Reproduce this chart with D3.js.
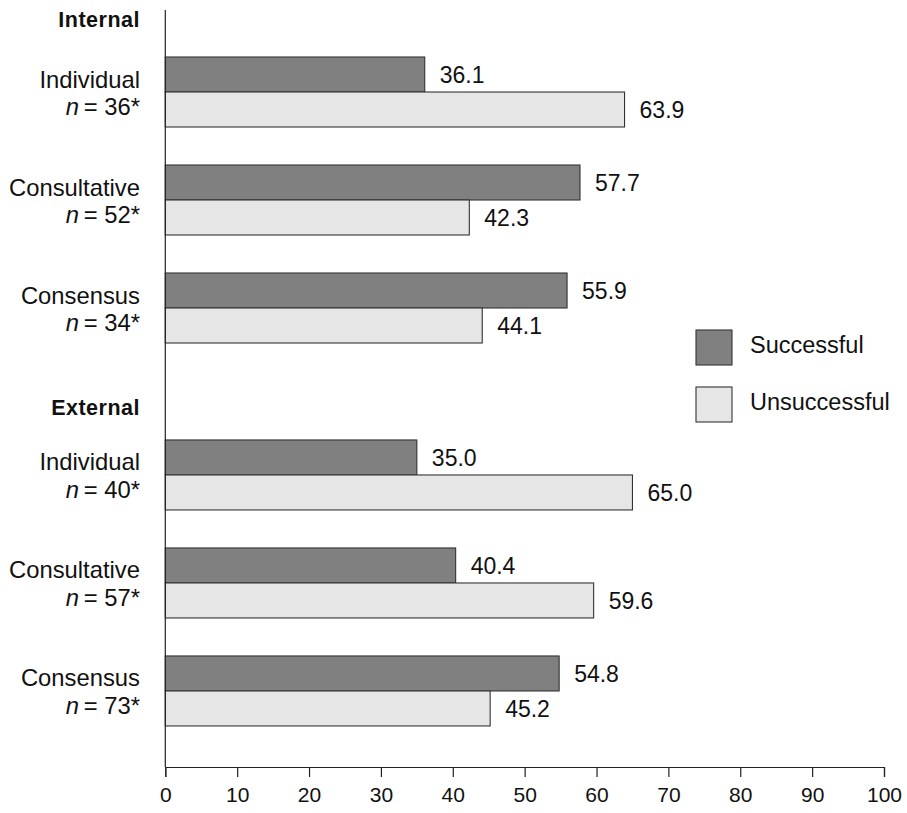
<!DOCTYPE html>
<html>
<head>
<meta charset="utf-8">
<script src="https://cdn.jsdelivr.net/npm/d3@7"></script>
<style>
  html, body { margin: 0; padding: 0; background: #fff; }
  svg { display: block; font-family: "Liberation Sans", Arial, Helvetica, sans-serif; }
</style>
</head>
<body>
<svg id="chart" width="907" height="813"></svg>
<script>
// ---- Data ----
const sections = ["Internal", "External"];
const categories = ["Individual", "Consultative", "Consensus"];
const nValues = [36, 52, 34, 40, 57, 73];
const successful = [36.1, 57.7, 55.9, 35.0, 40.4, 54.8];
const unsuccessful = [63.9, 42.3, 44.1, 65.0, 59.6, 45.2];
const seriesNames = ["Successful", "Unsuccessful"];
const xTicks = [0, 10, 20, 30, 40, 50, 60, 70, 80, 90, 100];

// ---- Layout ----
const colors = ["#808080", "#e6e6e6"];
const svg = d3.select("#chart");
const x0 = 165.3, x1 = 884;
const x = d3.scaleLinear().domain([0, 100]).range([x0, x1]);
// y: one unit per group row
const y = d3.scaleLinear().domain([0, 1]).range([92, 200]);
const sectionGap = 0.546;   // extra space before second section (in row units)
const headerOffset = [-0.60, -0.555];
const axisY = 767;
const barH = 35;

const rows = [];
sections.forEach((s, si) => {
  categories.forEach((c, ci) => {
    const idx = si * categories.length + ci;
    rows.push({
      section: s, cat: c, n: nValues[idx],
      succ: successful[idx], unsucc: unsuccessful[idx],
      pos: si * (categories.length + sectionGap) + ci
    });
  });
});

// Section headers
sections.forEach((s, si) => {
  const firstPos = si * (categories.length + sectionGap);
  svg.append("text")
    .attr("x", 140).attr("y", y(firstPos + headerOffset[si]))
    .attr("text-anchor", "end")
    .attr("font-size", 21.5).attr("font-weight", "bold")
    .attr("letter-spacing", "0.5")
    .attr("fill", "#111")
    .text(s);
});

// Bars
const g = svg.append("g");
rows.forEach(r => {
  const cy = y(r.pos);
  const vals = [r.succ, r.unsucc];
  vals.forEach((v, k) => {
    const top = k === 0 ? cy - barH : cy;
    g.append("rect")
      .attr("x", x(0)).attr("y", top)
      .attr("width", x(v) - x(0)).attr("height", barH)
      .attr("fill", colors[k]).attr("stroke", "#333").attr("stroke-width", 1.1);
    g.append("text")
      .attr("x", x(v) + 15).attr("y", top + barH / 2 + 8.5)
      .attr("font-size", 23).attr("fill", "#111")
      .text(d3.format(".1f")(v));
  });
  // Category labels
  svg.append("text")
    .attr("x", 140).attr("y", cy - 4.5)
    .attr("text-anchor", "end")
    .attr("font-size", 23.8).attr("fill", "#111")
    .text(r.cat);
  const t = svg.append("text")
    .attr("x", 140).attr("y", cy + 23)
    .attr("text-anchor", "end")
    .attr("font-size", 23.8).attr("fill", "#111");
  t.append("tspan").attr("font-style", "italic").text("n");
  t.append("tspan").text("\u2009= " + r.n + "*");
});

// Axes
const xAxis = d3.axisBottom(x).tickValues(xTicks).tickSize(10).tickPadding(6).tickFormat(d3.format("d"));
const ax = svg.append("g").attr("transform", `translate(0,${axisY})`).call(xAxis);
ax.attr("font-size", 21);
ax.select(".domain").attr("stroke", "#222").attr("stroke-width", 1.2);
ax.selectAll(".tick line").attr("stroke", "#222").attr("stroke-width", 1.2);
ax.selectAll(".tick text").attr("font-size", 21).attr("fill", "#111")
  .attr("font-family", "'Liberation Sans', Arial, Helvetica, sans-serif")
  .attr("dy", "0.9em");

// vertical axis line
svg.append("line")
  .attr("x1", x(0)).attr("x2", x(0))
  .attr("y1", 10).attr("y2", axisY)
  .attr("stroke", "#222").attr("stroke-width", 1.2);

// Legend
const legend = svg.append("g");
seriesNames.forEach((name, k) => {
  const ly = 330 + k * 57;
  legend.append("rect")
    .attr("x", 696).attr("y", ly).attr("width", 36).attr("height", 35)
    .attr("fill", colors[k]).attr("stroke", "#333").attr("stroke-width", 1.1);
  legend.append("text")
    .attr("x", 750).attr("y", ly + 23)
    .attr("font-size", 23.5).attr("fill", "#111")
    .text(name);
});
</script>
</body>
</html>
